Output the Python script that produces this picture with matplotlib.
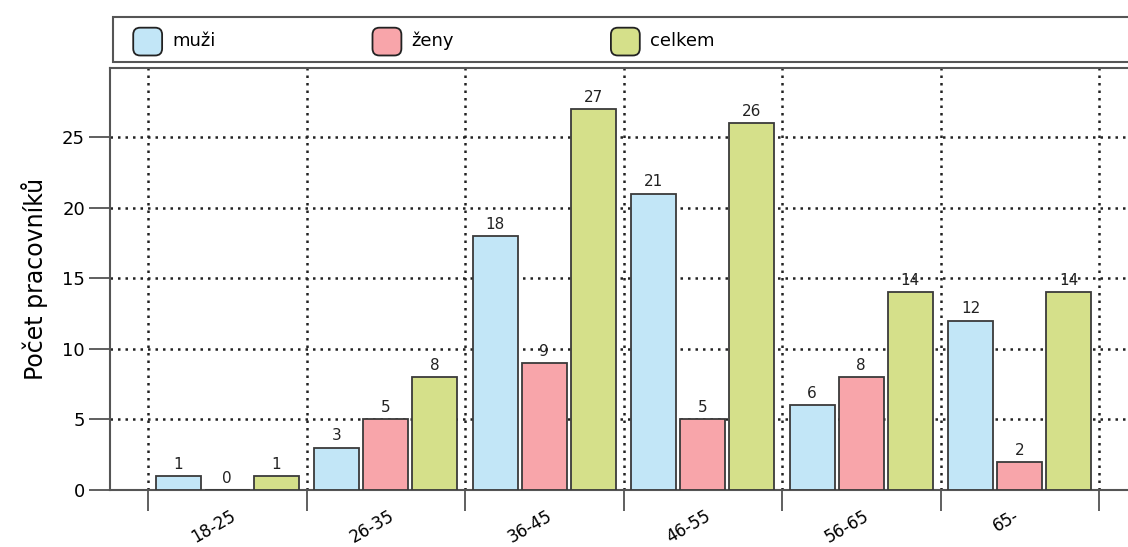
import numpy as np
import matplotlib
matplotlib.use('Agg')
import matplotlib.pyplot as plt
from matplotlib.patches import Rectangle, FancyBboxPatch, Patch
from matplotlib.legend_handler import HandlerPatch
from matplotlib.transforms import ScaledTranslation

# Data
categories = ['18-25', '26-35', '36-45', '46-55', '56-65', '65-']
muzi = [1, 3, 18, 21, 6, 12]
zeny = [0, 5, 9, 5, 8, 2]
celkem = [1, 8, 27, 26, 14, 14]
series_names = ['muži', 'ženy', 'celkem']
colors = ['#c2e6f7', '#f8a5aa', '#d5e08a']

plt.rcParams['font.family'] = ['DejaVu Sans']

fig = plt.figure(figsize=(11.28, 5.47), dpi=100)
W, H = 1128, 547
ax = fig.add_axes([110 / W, 57 / H, (1.02 * W - 110) / W, 422 / H])

x = np.arange(len(categories))
offset = 0.31
width = 0.285
edge = '#3a3a3a'
groups = [muzi, zeny, celkem]
for i, (vals, name, col) in enumerate(zip(groups, series_names, colors)):
    bars = ax.bar(x + (i - 1) * offset, vals, width, color=col, edgecolor=edge,
                  linewidth=1.3, label=name, zorder=3)
    ax.bar_label(bars, padding=3, fontsize=11, color='#222222', zorder=4)

px_per_unit = 158.5
left = -0.5 - 38 / px_per_unit
ax_w_px = 1.02 * W - 110
ax.set_xlim(left, left + ax_w_px / px_per_unit)
ax.set_ylim(0, 29.9)

# category labels at centers, tick marks and grid at boundaries
ax.set_xticks(x)
ax.set_xticklabels(categories, rotation=30, ha='center', fontsize=12)
ax.tick_params(axis='x', which='major', length=0, pad=12)
ax.set_xticks(np.arange(-0.5, len(categories) + 0.5, 1), minor=True)
ax.tick_params(axis='x', which='minor', length=15, width=1.2, color='#444444',
               direction='out')
shift = ScaledTranslation(-14 / 100, 0, fig.dpi_scale_trans)
for lab in ax.get_xticklabels():
    lab.set_transform(lab.get_transform() + shift)

ax.set_yticks([0, 5, 10, 15, 20, 25])
ax.tick_params(axis='y', length=15, width=1.2, color='#444444', labelsize=13,
               direction='out', pad=3)
ax.grid(True, axis='y', which='major', linestyle=(0, (1, 2)), linewidth=1.8,
        color='#222222')
ax.grid(True, axis='x', which='minor', linestyle=(0, (1, 2)), linewidth=1.8,
        color='#222222')
ax.set_axisbelow(True)

for s in ax.spines.values():
    s.set_color('#555555')
    s.set_linewidth(1.5)

ax.set_ylabel('Počet pracovníků', fontsize=17, labelpad=10)


# legend with rounded swatches inside a wide frame
def rounded_patch(legend, orig_handle, xdescent, ydescent, width, height, fontsize):
    return FancyBboxPatch((-xdescent, -ydescent - 4), width, height + 5,
                          boxstyle='round,pad=0,rounding_size=5')


fig.patches.append(Rectangle((113 / W, (H - 62) / H), 1.1, 45 / H,
                             transform=fig.transFigure, facecolor='white',
                             edgecolor='#555555', linewidth=1.5))
handles = [Patch(facecolor=c, edgecolor='#222222', linewidth=1.3) for c in colors]
fig.legend(handles, series_names, loc='center left',
           bbox_to_anchor=(126 / W, (H - 39.5) / H), ncol=3, frameon=False,
           fontsize=13, handlelength=1.6, handleheight=1.4, handletextpad=0.55,
           columnspacing=8.7, borderaxespad=0,
           handler_map={Patch: HandlerPatch(patch_func=rounded_patch)})

fig.savefig('out.png', dpi=100)
